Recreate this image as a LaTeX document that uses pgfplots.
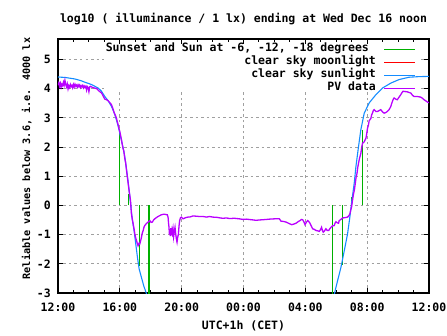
\documentclass[border=0pt]{standalone}
\usepackage{fontspec}
\setmainfont{DejaVu Sans Mono}
\usepackage{pgfplots}
\pgfplotsset{compat=1.18}
\definecolor{gpgreen}{RGB}{0,176,0}
\definecolor{gpred}{RGB}{255,0,0}
\definecolor{gpblue}{RGB}{20,140,255}
\definecolor{gppurple}{RGB}{185,0,255}
\definecolor{gpgray}{RGB}{160,160,160}
\newcommand{\gpf}{\fontsize{11.5}{13}\selectfont\bfseries}
\pgfdeclarelayer{legendbox}
\pgfplotsset{
  layers/gplayers/.define layer set={axis background,axis grid,legendbox,axis ticks,axis lines,axis tick labels,pre main,main,axis descriptions,axis foreground}{
    grid style={/pgfplots/on layer=axis grid},
    tick style={/pgfplots/on layer=axis ticks},
    axis line style={/pgfplots/on layer=axis lines},
    label style={/pgfplots/on layer=axis descriptions},
    legend style={/pgfplots/on layer=axis descriptions},
    title style={/pgfplots/on layer=axis descriptions},
    colorbar style={/pgfplots/on layer=axis descriptions},
    ticklabel style={/pgfplots/on layer=axis tick labels},
    axis background@ style={/pgfplots/on layer=axis background},
    3d box foreground style={/pgfplots/on layer=axis foreground},
  },
}
\begin{document}
\begin{tikzpicture}
\begin{axis}[
  set layers=gplayers,
  at={(0pt,0pt)}, anchor=south west,
  scale only axis, width=371pt, height=254pt,
  xmin=0, xmax=24, ymin=-3, ymax=5.7,
  xtick={0,4,8,12,16,20,24},
  xticklabels={12:00,16:00,20:00,00:00,04:00,08:00,12:00},
  ytick={-3,-2,-1,0,1,2,3,4,5},
  yticklabels={-3,-2,-1,0,1,2,3,4,5},
  minor x tick num=3,
  grid=major,
  major grid style={gpgray, line width=0.9pt, dash pattern=on 2.5pt off 3pt},
  tick align=inside,
  major tick length=5pt, minor tick length=3pt,
  tick style={black, line width=1pt},
  axis line style={black, line width=1.5pt},
  xticklabel style={font=\gpf, inner sep=0pt, anchor=north, yshift=-9.8pt},
  yticklabel style={font=\gpf, inner sep=0pt, anchor=east, xshift=-7pt},
  title={log10 ( illuminance / 1 lx) ending at Wed Dec 16 noon},
  every axis title/.style={at={(0.5,1.0787)}, anchor=center, font=\gpf},
  xlabel={UTC+1h (CET)},
  every axis x label/.style={at={(0.5,0)}, anchor=center, yshift=-32.7pt, font=\gpf},
  ylabel={Reliable values below 3.6, i.e. 4000 lx},
  every axis y label/.style={at={(-0.0844,0.5295)}, rotate=90, anchor=center, font=\fontsize{10.2}{12}\selectfont\bfseries},
  unbounded coords=jump,
  legend style={at={(0.965,0.9847)}, anchor=north east, draw=none, fill=none,
    inner sep=0pt, outer sep=0pt, row sep=0pt, column sep=8pt,
    nodes={inner sep=0pt, outer sep=0pt, text height=9pt, text depth=4pt},
    font=\gpf},
  legend cell align=right,
  legend plot pos=right,
  legend image code/.code={\draw[#1] (0pt,0pt) -- (31pt,0pt);},
]
\begin{pgfonlayer}{legendbox}
\fill[white] (axis cs:3.0,3.9) rectangle (axis cs:23.3,5.8);
\end{pgfonlayer}
% sunset / twilight markers
\addplot[ycomb, gpgreen, line width=1.1pt, forget plot] coordinates {
(3.95,2.50) (4.58,0.40) (5.25,-2.07) (5.89,-3.40)
(17.76,-3.30) (18.41,-2.05) (19.01,0.30) (19.70,2.59)
};
% clear sky sunlight
\addplot[gpblue, line width=1.1pt, forget plot] coordinates {
(0.00,4.40) (0.50,4.38) (1.10,4.33) (1.50,4.27) (1.74,4.22) (2.17,4.14)
(2.60,4.02) (2.80,3.92) (3.03,3.73) (3.25,3.58) (3.46,3.39) (3.63,3.18)
(3.78,2.93) (3.90,2.70) (4.00,2.47) (4.08,2.28) (4.17,2.07) (4.25,1.88)
(4.32,1.67) (4.43,1.25) (4.54,0.80) (4.65,0.29) (4.72,-0.05) (4.80,-0.46)
(4.92,-0.86) (5.03,-1.32) (5.14,-1.78) (5.25,-2.18) (5.40,-2.47) (5.55,-2.76)
(5.72,-3.02) (5.85,-3.30)
(11.8,nan)
(17.70,-3.50) (17.87,-3.05) (18.08,-2.59) (18.30,-2.13) (18.52,-1.55)
(18.73,-0.98) (18.88,-0.40) (19.01,0.17) (19.16,0.75) (19.27,1.32)
(19.44,2.01) (19.59,2.59) (19.81,3.16) (20.13,3.51) (20.56,3.79)
(20.99,4.02) (21.53,4.19) (22.06,4.31) (22.70,4.39) (23.30,4.41) (24.00,4.42)
};
% PV data
\addplot[gppurple, line width=1.3pt, forget plot] coordinates {
(0.00,4.12) (0.05,4.20) (0.10,4.08) (0.15,4.18) (0.20,4.05) (0.25,4.15)
(0.30,4.10) (0.35,4.22) (0.40,4.12) (0.45,4.28) (0.50,4.14) (0.55,4.06)
(0.60,4.16) (0.65,3.99) (0.70,4.10) (0.75,4.04) (0.80,4.14) (0.85,4.07)
(0.90,4.11) (0.95,4.03) (1.00,4.14) (1.05,4.06) (1.10,4.15) (1.15,4.08)
(1.20,4.12) (1.25,4.05) (1.30,4.13) (1.35,4.07) (1.40,4.12) (1.45,4.04)
(1.50,4.10) (1.55,4.06) (1.60,4.11) (1.65,4.03) (1.70,4.09) (1.75,4.04)
(1.80,4.08) (1.85,3.95) (1.90,4.07) (1.95,4.04) (2.00,3.90) (2.05,4.06)
(2.10,4.08) (2.20,4.05) (2.35,4.02) (2.50,4.00) (2.65,3.92) (2.82,3.85)
(2.95,3.72) (3.03,3.64) (3.15,3.62) (3.25,3.58) (3.35,3.52) (3.46,3.45)
(3.55,3.32) (3.63,3.18) (3.70,3.10) (3.78,2.99) (3.84,2.86) (3.89,2.76)
(3.95,2.62) (4.00,2.53) (4.05,2.40) (4.11,2.24) (4.16,2.08) (4.21,1.95)
(4.26,1.85) (4.32,1.61) (4.38,1.45) (4.43,1.21) (4.48,1.00) (4.54,0.75)
(4.60,0.50) (4.65,0.32) (4.69,0.17) (4.75,-0.29) (4.80,-0.45) (4.86,-0.63)
(4.92,-0.80) (4.97,-0.98) (5.02,-1.10) (5.08,-1.21) (5.13,-1.30) (5.18,-1.38)
(5.24,-1.30) (5.29,-1.32) (5.35,-1.20) (5.40,-1.09) (5.45,-0.95) (5.51,-0.86)
(5.56,-0.75) (5.61,-0.69) (5.72,-0.62) (5.83,-0.57) (5.94,-0.52) (6.02,-0.58)
(6.11,-0.57) (6.18,-0.50) (6.26,-0.46) (6.36,-0.42) (6.47,-0.38) (6.58,-0.35)
(6.69,-0.32) (6.85,-0.30) (7.07,-0.32) (7.12,-0.40) (7.15,-0.60) (7.18,-0.75)
(7.21,-1.00) (7.24,-0.82) (7.27,-1.05) (7.30,-0.78) (7.33,-1.02) (7.37,-0.85)
(7.40,-0.95) (7.44,-0.80) (7.48,-1.07) (7.52,-0.90) (7.57,-0.75) (7.62,-1.00)
(7.66,-1.15) (7.70,-1.26) (7.74,-1.10) (7.79,-0.98) (7.83,-0.70) (7.87,-0.52)
(7.92,-0.43) (7.98,-0.40) (8.09,-0.46) (8.25,-0.42) (8.41,-0.40) (8.52,-0.40)
(8.73,-0.36) (8.95,-0.37) (9.16,-0.38) (9.40,-0.38) (9.60,-0.40) (9.80,-0.38)
(10.02,-0.40) (10.30,-0.41) (10.50,-0.43) (10.67,-0.44) (10.90,-0.43) (11.10,-0.45)
(11.40,-0.44) (11.74,-0.46) (11.96,-0.48) (12.20,-0.47) (12.50,-0.49) (12.82,-0.51)
(13.00,-0.50) (13.25,-0.49) (13.50,-0.48) (13.68,-0.47) (14.00,-0.46) (14.32,-0.46)
(14.43,-0.54) (14.60,-0.55) (14.75,-0.57) (14.95,-0.62) (15.12,-0.66) (15.25,-0.64)
(15.40,-0.61) (15.55,-0.55) (15.66,-0.52) (15.75,-0.48) (15.83,-0.49) (15.92,-0.58)
(15.98,-0.66) (16.06,-0.58) (16.15,-0.52) (16.22,-0.55) (16.30,-0.61) (16.40,-0.72)
(16.47,-0.80) (16.58,-0.82) (16.69,-0.86) (16.80,-0.87) (16.90,-0.89) (16.97,-0.84)
(17.05,-0.75) (17.10,-0.85) (17.16,-0.92) (17.23,-0.88) (17.33,-0.80) (17.42,-0.86)
(17.51,-0.86) (17.58,-0.80) (17.66,-0.75) (17.76,-0.70) (17.87,-0.69) (17.93,-0.60)
(17.98,-0.56) (18.08,-0.60) (18.15,-0.61) (18.19,-0.52) (18.30,-0.48) (18.41,-0.43)
(18.55,-0.42) (18.73,-0.40) (18.82,-0.35) (18.88,-0.29) (18.94,-0.15) (18.99,-0.06)
(19.05,0.17) (19.12,0.40) (19.18,0.55) (19.23,0.75) (19.28,0.95) (19.34,1.09)
(19.39,1.30) (19.44,1.44) (19.50,1.60) (19.59,1.78) (19.65,2.00) (19.70,2.13)
(19.81,2.18) (19.92,2.30) (19.97,2.45) (20.02,2.64) (20.08,2.75) (20.13,2.90)
(20.24,2.98) (20.29,3.10) (20.34,3.16) (20.40,3.25) (20.45,3.28) (20.56,3.22)
(20.67,3.22) (20.78,3.25) (20.88,3.28) (21.00,3.20) (21.10,3.16) (21.20,3.18)
(21.31,3.22) (21.42,3.28) (21.53,3.39) (21.58,3.48) (21.63,3.56) (21.70,3.65)
(21.74,3.68) (21.85,3.64) (21.95,3.62) (22.05,3.70) (22.17,3.79) (22.25,3.86)
(22.32,3.91) (22.45,3.90) (22.60,3.89) (22.70,3.87) (22.82,3.85) (22.92,3.78)
(23.03,3.73) (23.15,3.73) (23.25,3.73) (23.35,3.72) (23.46,3.71) (23.55,3.68)
(23.68,3.62) (23.80,3.58) (23.90,3.54) (24.00,3.52)
};
\addlegendimage{gpgreen, line width=1.1pt}
\addlegendentry{Sunset and Sun at -6, -12, -18 degrees\hspace*{7pt}}
\addlegendimage{gpred, line width=1.1pt}
\addlegendentry{clear sky moonlight}
\addlegendimage{gpblue, line width=1.1pt}
\addlegendentry{clear sky sunlight}
\addlegendimage{gppurple, line width=1.1pt}
\addlegendentry{PV data}
\end{axis}
\path (-58pt,-42pt) rectangle (389pt,293pt);
\end{tikzpicture}
\end{document}
